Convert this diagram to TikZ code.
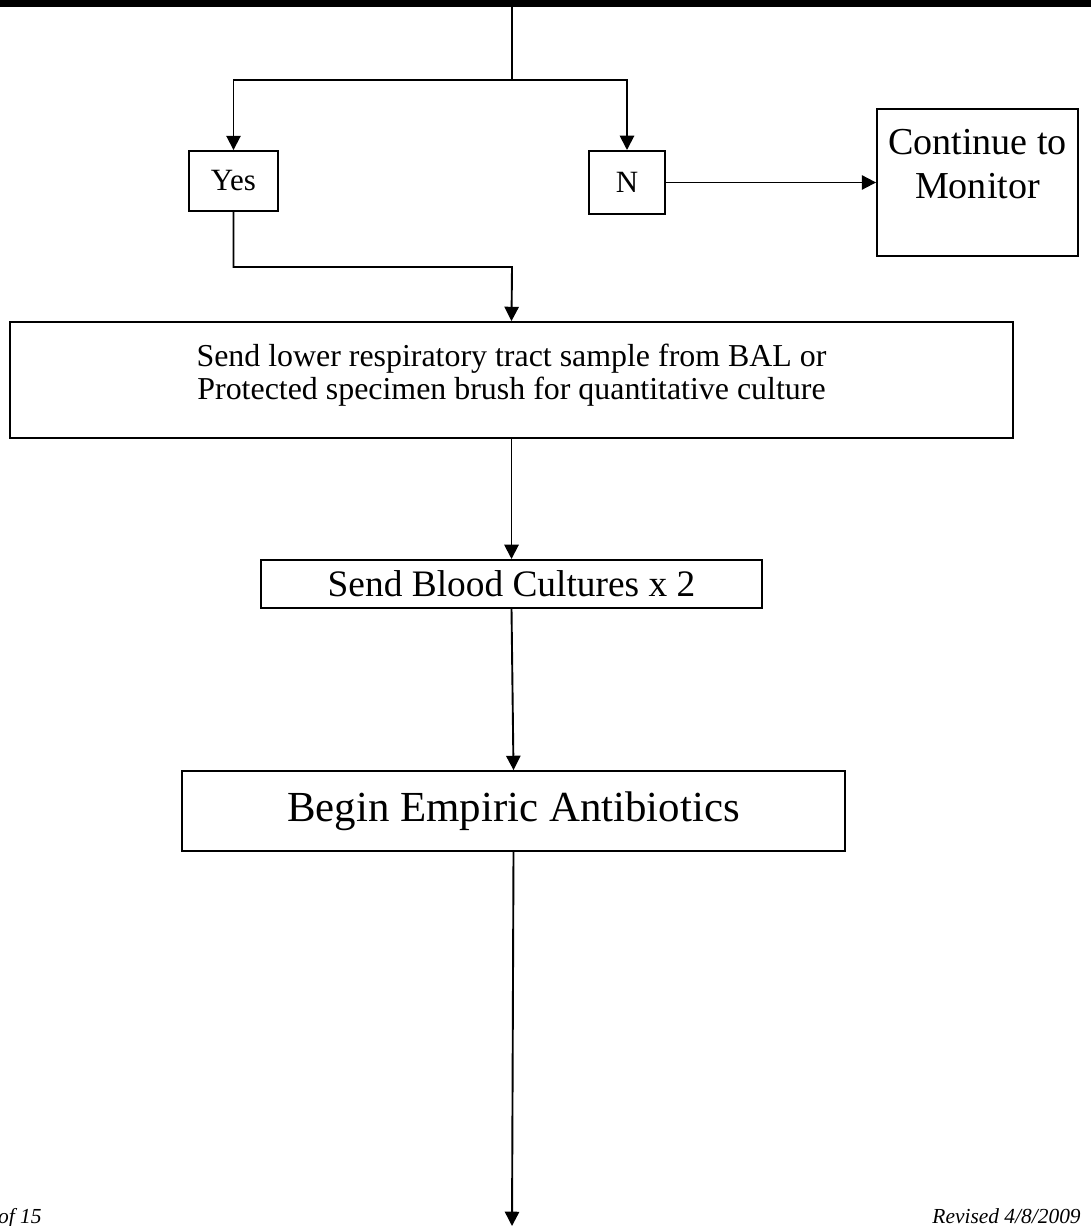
\documentclass[tikz,border=0pt]{standalone}
\usepackage{fontspec}
\setmainfont{Liberation Serif}
\usetikzlibrary{arrows.meta,positioning}

\begin{document}
\begin{tikzpicture}[x=0.42pt,y=-0.42pt,
  box/.style={draw=black,line width=0.8pt,inner sep=0pt,align=center},
  link/.style={line width=0.8pt},
  arr/.style={link,-{Triangle[length=6pt,width=6pt]}}]

\clip (0,0) rectangle (1091,1226);
\useasboundingbox (0,0) rectangle (1091,1226);

% bar at the top of the page
\fill[black] (0,0) rectangle (1091,7);
\coordinate (top) at (512,7);
\coordinate (split) at (512,80);

% answer boxes
\node[box,minimum width=37.4pt,minimum height=25.2pt,font=\fontsize{13}{15}\selectfont] (yes) at (233.5,181) {Yes};
\node[box,minimum width=31.9pt,minimum height=26.5pt,font=\fontsize{13}{15}\selectfont] (no) at (627,182.5) {N};
\node[box,minimum width=84.4pt,minimum height=61.7pt,font=\fontsize{16}{18.5}\selectfont] (monitor) at (977.5,182.5)
  {\parbox[c][55pt][t]{80pt}{\centering\vspace*{5pt}Continue to\\Monitor}};

% steps
\coordinate (join) at (512,267);
\node[box,minimum width=421.3pt,minimum height=48.7pt,font=\fontsize{13.4}{14}\selectfont] (sample) at (511.5,380)
  {\parbox[c][44pt][c]{410pt}{\centering Send lower respiratory tract sample from BAL or\\Protected specimen brush for quantitative culture\\[4pt]}};
\node[box,minimum width=210.4pt,minimum height=20.2pt,font=\fontsize{15.7}{18}\selectfont] (blood) at (511.5,584) {Send Blood Cultures x 2};
\node[box,minimum width=278.5pt,minimum height=33.6pt,font=\fontsize{18}{21}\selectfont] (empiric) at (513.5,811) {Begin Empiric Antibiotics};
\coordinate (bottom) at (512,1226);

% connectors
\draw[link] (top) -- (split);
\draw[arr] (split) -| (yes.north);
\draw[arr] (split) -| (no.north);
\draw[arr] (no.east) -- (monitor.west);
\draw[arr] (yes.south) |- (join) -- (sample.north);
\draw[arr] (sample.south) -- (blood.north);
\draw[arr] (blood.south) -- (empiric.north);
\draw[arr] (empiric.south) -- (bottom);

% page footer
\node[anchor=base east,inner sep=0pt,font=\fontsize{9}{11}\selectfont\itshape] (page) at (42,1223) {of 15};
\node[anchor=base west,inner sep=0pt,font=\fontsize{9}{11}\selectfont\itshape] (revised) at (932,1223) {Revised 4/8/2009};
\end{tikzpicture}
\end{document}
